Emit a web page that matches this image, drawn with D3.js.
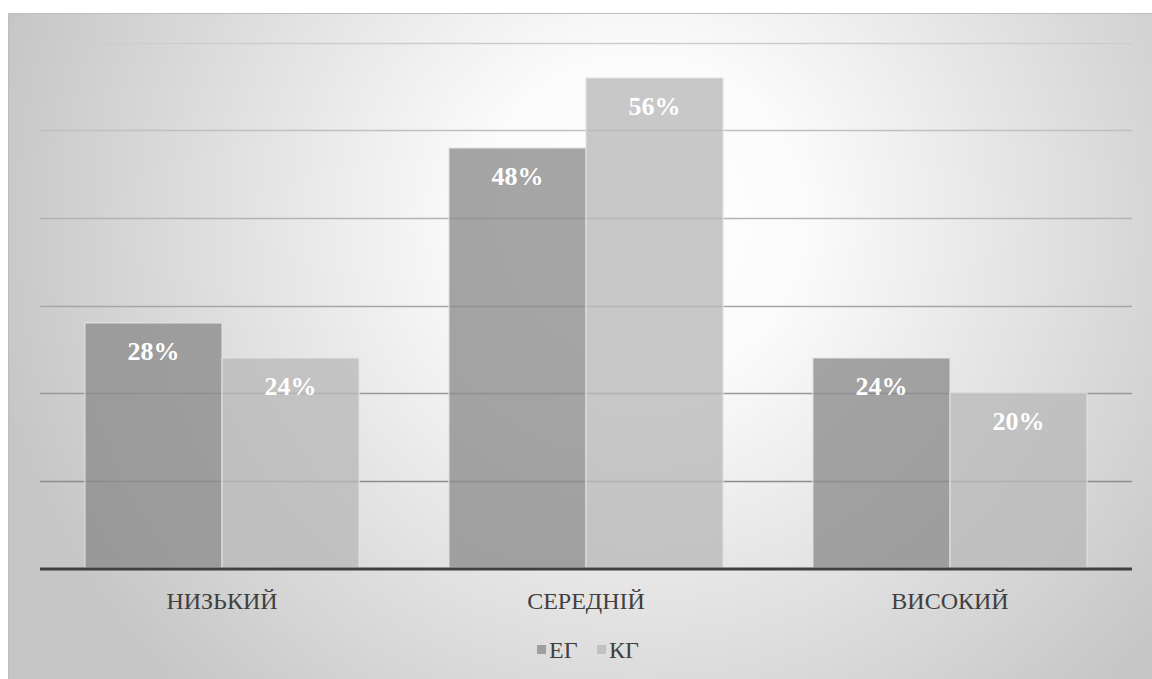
<!DOCTYPE html>
<html>
<head>
<meta charset="utf-8">
<script src="https://cdn.jsdelivr.net/npm/d3@7"></script>
<style>
  body { margin: 0; background: #fff; }
</style>
</head>
<body>
<div id="chart"></div>
<script>
// data
const categories = ["НИЗЬКИЙ", "СЕРЕДНІЙ", "ВИСОКИЙ"];
const series = ["ЕГ", "КГ"];
const eg_values = [28, 48, 24];
const kg_values = [24, 56, 20];
const grid_ticks = [10, 20, 30, 40, 50, 60];

const width = 1152, height = 679;
const margin = {left: 40, right: 20, top: 43, bottom: 111};
const font = "Liberation Serif";

var svg = d3.select("#chart").append("svg")
    .attr("width", width)
    .attr("height", height)
    .style("font-family", font);

// radial background
var defs = svg.append("defs");
var grad = defs.append("radialGradient")
    .attr("id", "bg_grad")
    .attr("gradientUnits", "userSpaceOnUse")
    .attr("cx", 640).attr("cy", 220).attr("r", 660);
grad.append("stop").attr("offset", "0%").attr("stop-color", "#ffffff");
grad.append("stop").attr("offset", "25%").attr("stop-color", "#fbfbfb");
grad.append("stop").attr("offset", "100%").attr("stop-color", "#c6c6c6");

svg.append("rect")
    .attr("x", 8.5).attr("y", 13.5)
    .attr("width", width)
    .attr("height", height)
    .attr("fill", "url(#bg_grad)")
    .attr("stroke", "#bdbdbd");

var x0 = d3.scaleBand()
    .domain(categories)
    .range([margin.left, width - margin.right])
    .paddingInner(0.247)
    .paddingOuter(0.1235);
var x1 = d3.scaleBand()
    .domain(series)
    .range([0, x0.bandwidth()]);
var y = d3.scaleLinear()
    .domain([0, 60])
    .range([height - margin.bottom, margin.top]);

// gridlines get darker lower down, like the original
var grid_color = d3.scaleLinear().domain([10, 60]).range(["#8c8c8c", "#cdcdcd"]);
svg.append("g").selectAll("line")
    .data(grid_ticks)
    .enter().append("line")
    .attr("x1", margin.left)
    .attr("x2", width - margin.right)
    .attr("y1", d => Math.round(y(d)) + 0.5)
    .attr("y2", d => Math.round(y(d)) + 0.5)
    .attr("stroke", d => grid_color(d))
    .attr("stroke-width", 1.5);

var color = d3.scaleOrdinal().domain(series).range(["#8c8c8c", "#b9b9b9"]);

var rows = categories.map((c, i) => ({cat: c, vals: [
    {key: "ЕГ", value: eg_values[i]},
    {key: "КГ", value: kg_values[i]}
]}));

var groups = svg.selectAll("g.group")
    .data(rows)
    .enter().append("g")
    .attr("class", "group")
    .attr("transform", d => "translate(" + x0(d.cat) + ",0)");

groups.selectAll("rect")
    .data(d => d.vals)
    .enter().append("rect")
    .attr("x", d => x1(d.key))
    .attr("y", d => y(d.value))
    .attr("width", x1.bandwidth())
    .attr("height", d => y(0) - y(d.value))
    .attr("fill", d => color(d.key))
    .attr("fill-opacity", 0.78)
    .attr("stroke", "#e4e4e4")
    .attr("stroke-width", 1);

groups.selectAll("text")
    .data(d => d.vals)
    .enter().append("text")
    .attr("x", d => x1(d.key) + x1.bandwidth() / 2)
    .attr("y", d => y(d.value) + 37)
    .attr("text-anchor", "middle")
    .attr("fill", "#ffffff")
    .attr("font-weight", "bold")
    .attr("font-size", "26px")
    .text(d => d.value + "%");

// baseline
svg.append("line")
    .attr("x1", margin.left)
    .attr("x2", width - margin.right)
    .attr("y1", y(0) + 1)
    .attr("y2", y(0) + 1)
    .attr("stroke", "#404040")
    .attr("stroke-width", 3);

// category labels
svg.selectAll("text.cat")
    .data(categories)
    .enter().append("text")
    .attr("class", "cat")
    .attr("x", d => x0(d) + x0.bandwidth() / 2)
    .attr("y", 609)
    .attr("text-anchor", "middle")
    .attr("fill", "#404040")
    .attr("font-size", "24px")
    .text(d => d);

// legend
var legend = svg.append("g").attr("transform", "translate(537,650)");
var leg_x = [0, 60];
series.forEach(function (s, i) {
    legend.append("rect")
        .attr("x", leg_x[i])
        .attr("y", -5)
        .attr("width", 9)
        .attr("height", 9)
        .attr("fill", color(s))
        .attr("fill-opacity", 0.78);
    legend.append("text")
        .attr("x", leg_x[i] + 12)
        .attr("y", 8)
        .attr("fill", "#404040")
        .attr("font-size", "24px")
        .text(s);
});
</script>
</body>
</html>
